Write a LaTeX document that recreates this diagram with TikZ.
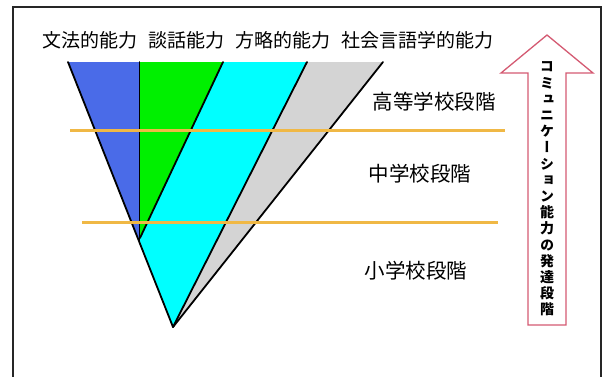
\documentclass[tikz,border=0pt]{standalone}
\usepackage{fontspec}
\newfontfamily\cjk{Noto Sans CJK JP}
\newfontfamily\cjkv[RawFeature=+vert]{Noto Sans CJK JP}
\definecolor{blueA}{HTML}{4A6BE8}
\definecolor{greenA}{HTML}{00F000}
\definecolor{cyanA}{HTML}{00FFFF}
\definecolor{grayA}{HTML}{D4D4D4}
\definecolor{orangeA}{HTML}{F0B845}
\definecolor{arrowred}{HTML}{D45A72}
\tikzset{
  edgeline/.style={draw=black, line width=1.8pt, line cap=round},
  stageline/.style={draw=orangeA, line width=3pt},
  stagelabel/.style={font=\cjk\fontsize{20.5}{22}\selectfont, inner sep=0pt},
}
\begin{document}
\begin{tikzpicture}[x=1pt,y=-1pt]
\useasboundingbox (0,0) rectangle (607,376);
% frame
\draw[line width=1.8pt, draw=black!85] (13,380) -- (13,7) -- (601,7) -- (601,380);
% named points
\coordinate (L) at (68,62);
\coordinate (V) at (139.5,62);
\coordinate (G) at (223,62);
\coordinate (C) at (307,62);
\coordinate (R) at (383,62);
\coordinate (B) at (173,327);
\coordinate (Vb) at (139.5,242.5);
\coordinate (Gb) at (140,238);
% fills
\fill[grayA] (L) -- (R) -- (B) -- cycle;
\fill[cyanA] (G) -- (C) -- (B) -- (Vb) -- (Gb) -- cycle;
\fill[greenA] (V) -- (G) -- (Gb) -- (Vb) -- cycle;
\fill[blueA] (L) -- (V) -- (Vb) -- cycle;
% black edges
\draw[edgeline] (L) -- (B);
\draw[edgeline] (V) -- (Vb);
\draw[edgeline] (G) -- (Gb);
\draw[edgeline] (C) -- (B);
\draw[edgeline] (R) -- (B);
% stage lines
\coordinate (s1a) at (70,130);
\coordinate (s1b) at (505,130);
\coordinate (s2a) at (82,222);
\coordinate (s2b) at (498,222);
\draw[stageline] (s1a) -- (s1b);
\draw[stageline] (s2a) -- (s2b);
% top labels
\node[anchor=west, inner sep=0pt, font=\cjk\fontsize{19}{21}\selectfont] (top) at (42,40)
  {文法的能力\hspace{11pt}談話能力\hspace{11pt}方略的能力\hspace{11pt}社会言語学的能力};
% stage labels
\node[stagelabel] (hs) at (434,102) {高等学校段階};
\node[stagelabel] (ms) at (420,174) {中学校段階};
\node[stagelabel] (es) at (416,271) {小学校段階};
% arrow
\draw[draw=arrowred, line width=1.3pt, fill=white, line join=miter]
  (547,35) -- (593,73) -- (566,73) -- (566,325) -- (528,325) -- (528,73) -- (501,73) -- cycle;
\node[align=center, inner sep=0pt, font=\cjkv\bfseries\fontsize{14}{16.2}\selectfont] (arrowtext) at (547,189)
  {コ\\ミ\\ュ\\ニ\\ケ\\ー\\シ\\ョ\\ン\\能\\力\\の\\発\\達\\段\\階};
\end{tikzpicture}
\end{document}
